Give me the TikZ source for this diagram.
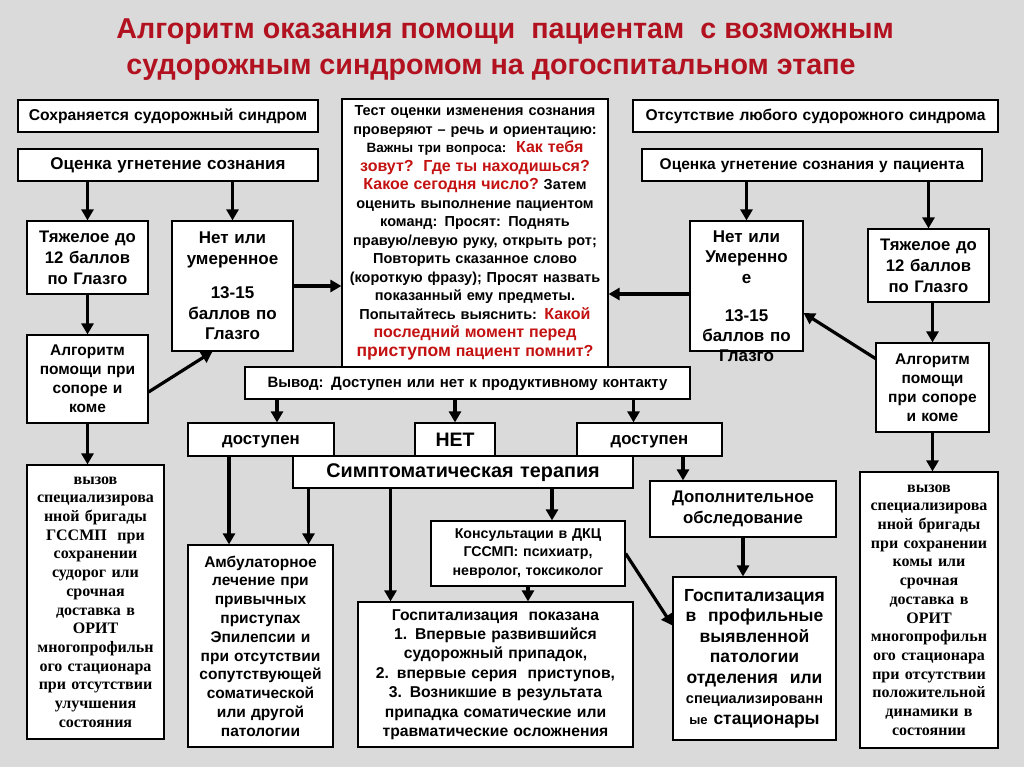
\documentclass[tikz,border=0pt]{standalone}
\usepackage{fontspec}
\setmainfont{Liberation Sans}
\newfontfamily\serifbold{Liberation Serif}
\newfontfamily\titlefont{Liberation Sans}
\usetikzlibrary{arrows.meta}
\definecolor{titlered}{RGB}{178,18,32}
\definecolor{askred}{RGB}{196,18,18}
\definecolor{marble}{RGB}{218,218,218}
\newcommand{\ask}[1]{{\color{askred}\fontsize{16}{18.5}\selectfont #1}}

\begin{document}
\begin{tikzpicture}[
    x=1pt, y=-1pt,
    box/.style={rectangle, draw=black, line width=1.2pt, fill=white,
                align=center, inner sep=2pt},
    sz/.style 2 args={font=\bfseries\fontsize{#1}{#2}\selectfont},
    serifsz/.style 2 args={font=\serifbold\bfseries\fontsize{#1}{#2}\selectfont},
    single/.style 2 args={text height=#1, text depth=#2},
    arrow/.style={-{Triangle[length=11pt,width=12pt]}, line width=3.2pt},
    heading/.style={font=\titlefont\bfseries\fontsize{28.7}{34}\selectfont, text=titlered}
]

% Fondo
\fill[marble] (0,0) rectangle (1024,767);
\useasboundingbox (0,0) rectangle (1024,767);

% Titolo
\node[heading] at (505,32) (title1) {Алгоритм оказания помощи\ \ пациентам\ \ с возможным};
\node[heading] at (491,70) (title2) {судорожным синдромом на догоспитальном этапе};

% Ramo sinistro
\node[box, sz={15.7}{18}, single={11.6pt}{3.1pt}, text width=296pt, minimum height=32pt] at (168,116) (keep)
    {Сохраняется судорожный синдром};
\node[box, sz={17}{19}, single={12.6pt}{3.4pt}, text width=296pt, minimum height=32pt] at (168,165) (evalL)
    {Оценка угнетение сознания};
\node[box, sz={16.7}{21}, text width=117pt, minimum height=73pt] at (87.5,257.5) (heavyL)
    {Тяжелое до\\12 баллов\\по Глазго};
\node[box, sz={17}{20.5}, text width=117pt, minimum height=130pt] at (232.5,286) (mildL)
    {Нет или\\умеренное\\[14pt]13-15\\баллов по\\Глазго};
\node[box, sz={15.5}{19}, text width=117pt, minimum height=88pt] at (87.5,379) (comaL)
    {Алгоритм\\помощи при\\сопоре и\\коме};
\node[box, serifsz={16}{18.7}, text width=133pt, minimum height=274pt] at (95.5,602) (callL)
    {вызов\\специализирова\\нной бригады\\ГССМП\ \ при\\сохранении\\судорог или\\срочная\\доставка в\\ОРИТ\\многопрофильн\\ого стационара\\при отсутствии\\улучшения\\состояния};

% Test centrale
\node[box, sz={14.5}{18.5}, text width=262pt, minimum height=268pt] at (475,233) (test)
    {Тест оценки изменения сознания\\
     проверяют – речь и ориентацию:\\
     {\fontsize{13.5}{18.5}\selectfont Важны три вопроса:}\ \ \ask{Как тебя}\\
     \ask{зовут?\ \ Где ты находишься?}\\
     \ask{Какое сегодня число?}\ Затем\\
     оценить выполнение пациентом\\
     команд: Просят: Поднять\\
     правую/левую руку, открыть рот;\\
     Повторить сказанное слово\\
     (короткую фразу); Просят назвать\\
     показанный ему предметы.\\
     Попытайтесь выяснить: \ask{Какой}\\
     \ask{последний момент перед}\\
     \ask{{\fontsize{17.5}{18.5}\selectfont приступом} пациент помнит?}};
\node[box, sz={15}{17}, single={11.1pt}{3pt}, text width=441pt, minimum height=32pt] at (467.5,383) (result)
    {Вывод: Доступен или нет к продуктивному контакту};

\node[box, sz={16.8}{19}, single={12.4pt}{3.4pt}, text width=142pt, minimum height=33pt] at (261,439.5) (availL)
    {доступен};
\node[box, sz={19.5}{22}, single={14.4pt}{0pt}, text width=76pt, minimum height=33pt] at (455,439.5) (no)
    {НЕТ};
\node[box, sz={16.8}{19}, single={12.4pt}{3.4pt}, text width=141pt, minimum height=33pt] at (649.5,439.5) (availR)
    {доступен};
\node[box, sz={19.8}{22}, single={14.7pt}{4pt}, text width=336pt, minimum height=32pt] at (463,472) (therapy)
    {Симптоматическая терапия};

\node[box, sz={15.5}{18.8}, text width=141pt, minimum height=202pt] at (260.5,646) (ambul)
    {Амбулаторное\\лечение при\\привычных\\приступах\\Эпилепсии и\\при отсутствии\\сопутствующей\\соматической\\или другой\\патологии};
\node[box, sz={14.2}{18.5}, text width=190pt, minimum height=65pt] at (528,553.5) (consult)
    {Консультации в ДКЦ\\ГССМП: психиатр,\\невролог, токсиколог};
\node[box, sz={15.7}{19.4}, text width=271pt, minimum height=145pt] at (495.5,674.5) (hospShown)
    {Госпитализация\ \ показана\\1. Впервые развившийся\\судорожный припадок,\\2. впервые серия\ \ приступов,\\3. Возникшие в результата\\припадка соматические или\\травматические осложнения};
\node[box, sz={16.8}{21}, text width=182pt, minimum height=56pt] at (743,509) (extra)
    {Дополнительное\\обследование};
\node[box, sz={17.5}{20.5}, text width=159pt, minimum height=163pt] at (754.5,658.5) (hospProf)
    {Госпитализация\\в\ \ профильные\\выявленной\\патологии\\отделения\ \ или\\{\fontsize{14.5}{20.5}\selectfont специализированн}\\{\fontsize{13}{20.5}\selectfont ые}\ стационары};

% Ramo destro
\node[box, sz={15.6}{18}, single={11.5pt}{3.1pt}, text width=361pt, minimum height=32pt] at (815.5,116) (absent)
    {Отсутствие любого судорожного синдрома};
\node[box, sz={15.5}{18}, single={11.5pt}{3.1pt}, text width=336pt, minimum height=32pt] at (812,165) (evalR)
    {Оценка угнетение сознания у пациента};
\node[box, sz={17}{20}, text width=109pt, text height=20pt, text depth=106pt] at (746.5,286) (mildR)
    {Нет или\\Умеренно\\е\\[18pt]13-15\\баллов по\\Глазго};
\node[box, sz={16.7}{21}, text width=117pt, minimum height=73pt] at (928.5,265.5) (heavyR)
    {Тяжелое до\\12 баллов\\по Глазго};
\node[box, sz={15.5}{19}, text width=109pt, minimum height=89pt] at (932.5,387.5) (comaR)
    {Алгоритм\\помощи\\при сопоре\\и коме};
\node[box, serifsz={16}{18.7}, text width=134pt, minimum height=276pt] at (929,610) (callR)
    {вызов\\специализирова\\нной бригады\\при сохранении\\комы или\\срочная\\доставка в\\ОРИТ\\многопрофильн\\ого стационара\\при отсутствии\\положительной\\динамики в\\состоянии};

% Frecce
\draw[arrow] (evalL.south -| heavyL.north) -- (heavyL.north);
\draw[arrow] (evalL.south -| mildL.north) -- (mildL.north);
\draw[arrow] (heavyL.south) -- (comaL.north);
\draw[arrow] (comaL.south) -- (comaL.south |- callL.north);
\draw[arrow] (comaL.-12) -- (mildL.-107);
\draw[arrow] (mildL.east) -- (mildL.east -| test.west);

\draw[arrow] (evalR.south -| mildR.north) -- (mildR.north);
\draw[arrow] (evalR.south -| heavyR.north) -- (heavyR.north);
\draw[arrow] (heavyR.south -| comaR.north) -- (comaR.north);
\draw[arrow] (comaR.south) -- (comaR.south |- callR.north);
\draw[arrow] ([yshift=29]comaR.west) -- ([yshift=-27]mildR.east);
\draw[arrow] ([yshift=-8]mildR.west) -- ([yshift=-8]mildR.west -| test.east);

\draw[arrow] ([xshift=16]availL.north |- result.south) -- ([xshift=16]availL.north);
\draw[arrow] (result.south -| no.north) -- (no.north);
\draw[arrow] ([xshift=-16]availR.north |- result.south) -- ([xshift=-16]availR.north);

\draw[arrow] ([xshift=-32]availL.south) -- ([xshift=-32]availL.south |- ambul.north);
\draw[arrow] ([xshift=48]ambul.north |- therapy.south) -- ([xshift=48]ambul.north);
\draw[arrow] ([xshift=-105]hospShown.north |- therapy.south) -- ([xshift=-105]hospShown.north);
\draw[arrow] ([xshift=24]consult.north |- therapy.south) -- ([xshift=24]consult.north);
\draw[arrow] (consult.south) -- (consult.south |- hospShown.north);
\draw[arrow] (consult.east) -- ([yshift=33]hospProf.west);
\draw[arrow] ([xshift=-60]extra.north |- availR.south) -- ([xshift=-60]extra.north);
\draw[arrow] (extra.south) -- (extra.south |- hospProf.north);

\end{tikzpicture}
\end{document}
